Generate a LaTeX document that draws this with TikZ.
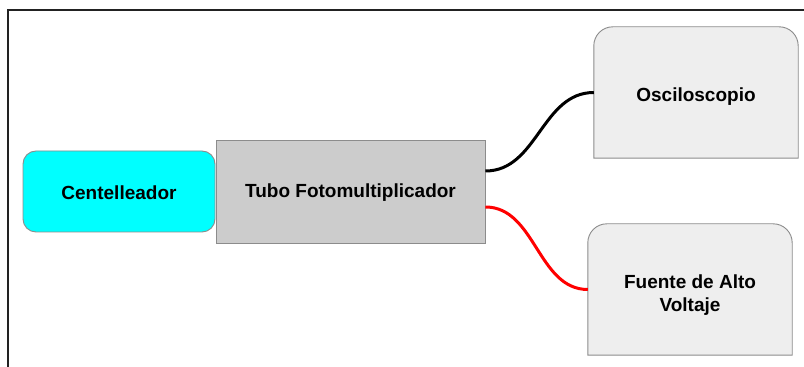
\documentclass[tikz,border=0pt]{standalone}
\usepackage{fontspec}
\setmainfont{Liberation Sans}
\usetikzlibrary{backgrounds}
\definecolor{edgegray}{HTML}{8C8C8C}
\definecolor{scintfill}{HTML}{00FFFF}
\definecolor{tubefill}{HTML}{CCCCCC}
\definecolor{devfill}{HTML}{EEEEEE}
\definecolor{framecol}{HTML}{222222}
\tikzset{
  x=1pt, y=1pt,
  lbl/.style={font=\fontsize{19}{23}\selectfont\bfseries, align=center, inner sep=0pt},
  box/.style={lbl, draw=edgegray, line width=0.9pt},
  devbox/.style={fill=devfill, draw=edgegray, line width=0.9pt},
  wire/.style={line width=3pt}
}
\begin{document}
\begin{tikzpicture}
  \useasboundingbox (0,0) rectangle (804,367);
  % outer frame (top and left edges)
  \draw[framecol, line width=1.5pt] (8,0) -- (8,357) -- (804,357);

  % main chain
  \node[box, fill=scintfill, rounded corners=13pt, minimum width=192pt, minimum height=81pt] (cen) at (119,175.5) {};
  \node[lbl] (cent) at ([yshift=-1pt]cen.center) {Centelleador};
  \node[box, fill=tubefill, minimum width=269pt, minimum height=103pt] (pmt) at (350.5,175.5) {};
  \node[lbl] (pmtt) at ([yshift=-1.5pt]pmt.center) {Tubo Fotomultiplicador};

  % devices with rounded top corners
  \node[lbl, minimum width=204pt, minimum height=131pt] (osc) at (696,274.5) {};
  \node[lbl] (osct) at ([yshift=-4pt]osc.center) {Osciloscopio};
  \node[lbl, minimum width=204pt, minimum height=131pt] (hv) at (690,77.5) {};
  \node[lbl] (hvt) at ([yshift=-5.5pt]hv.center) {Fuente de Alto\\Voltaje};
  \begin{scope}[on background layer]
    \foreach \n in {osc,hv}{
      \path[devbox] (\n.south west) -- ([yshift=-19pt]\n.north west)
        arc[start angle=180, end angle=90, radius=19pt]
        -- ([xshift=-19pt]\n.north east)
        arc[start angle=90, end angle=0, radius=19pt]
        -- (\n.south east) -- cycle;
    }
  \end{scope}

  % cables
  \draw[wire, black] ([yshift=20.5pt]pmt.east) .. controls +(52,0) and +(-52,0) .. (osc.west);
  \draw[wire, red] ([yshift=-15.5pt]pmt.east) .. controls +(50,0) and +(-50,0) .. (hv.west);
\end{tikzpicture}
\end{document}
